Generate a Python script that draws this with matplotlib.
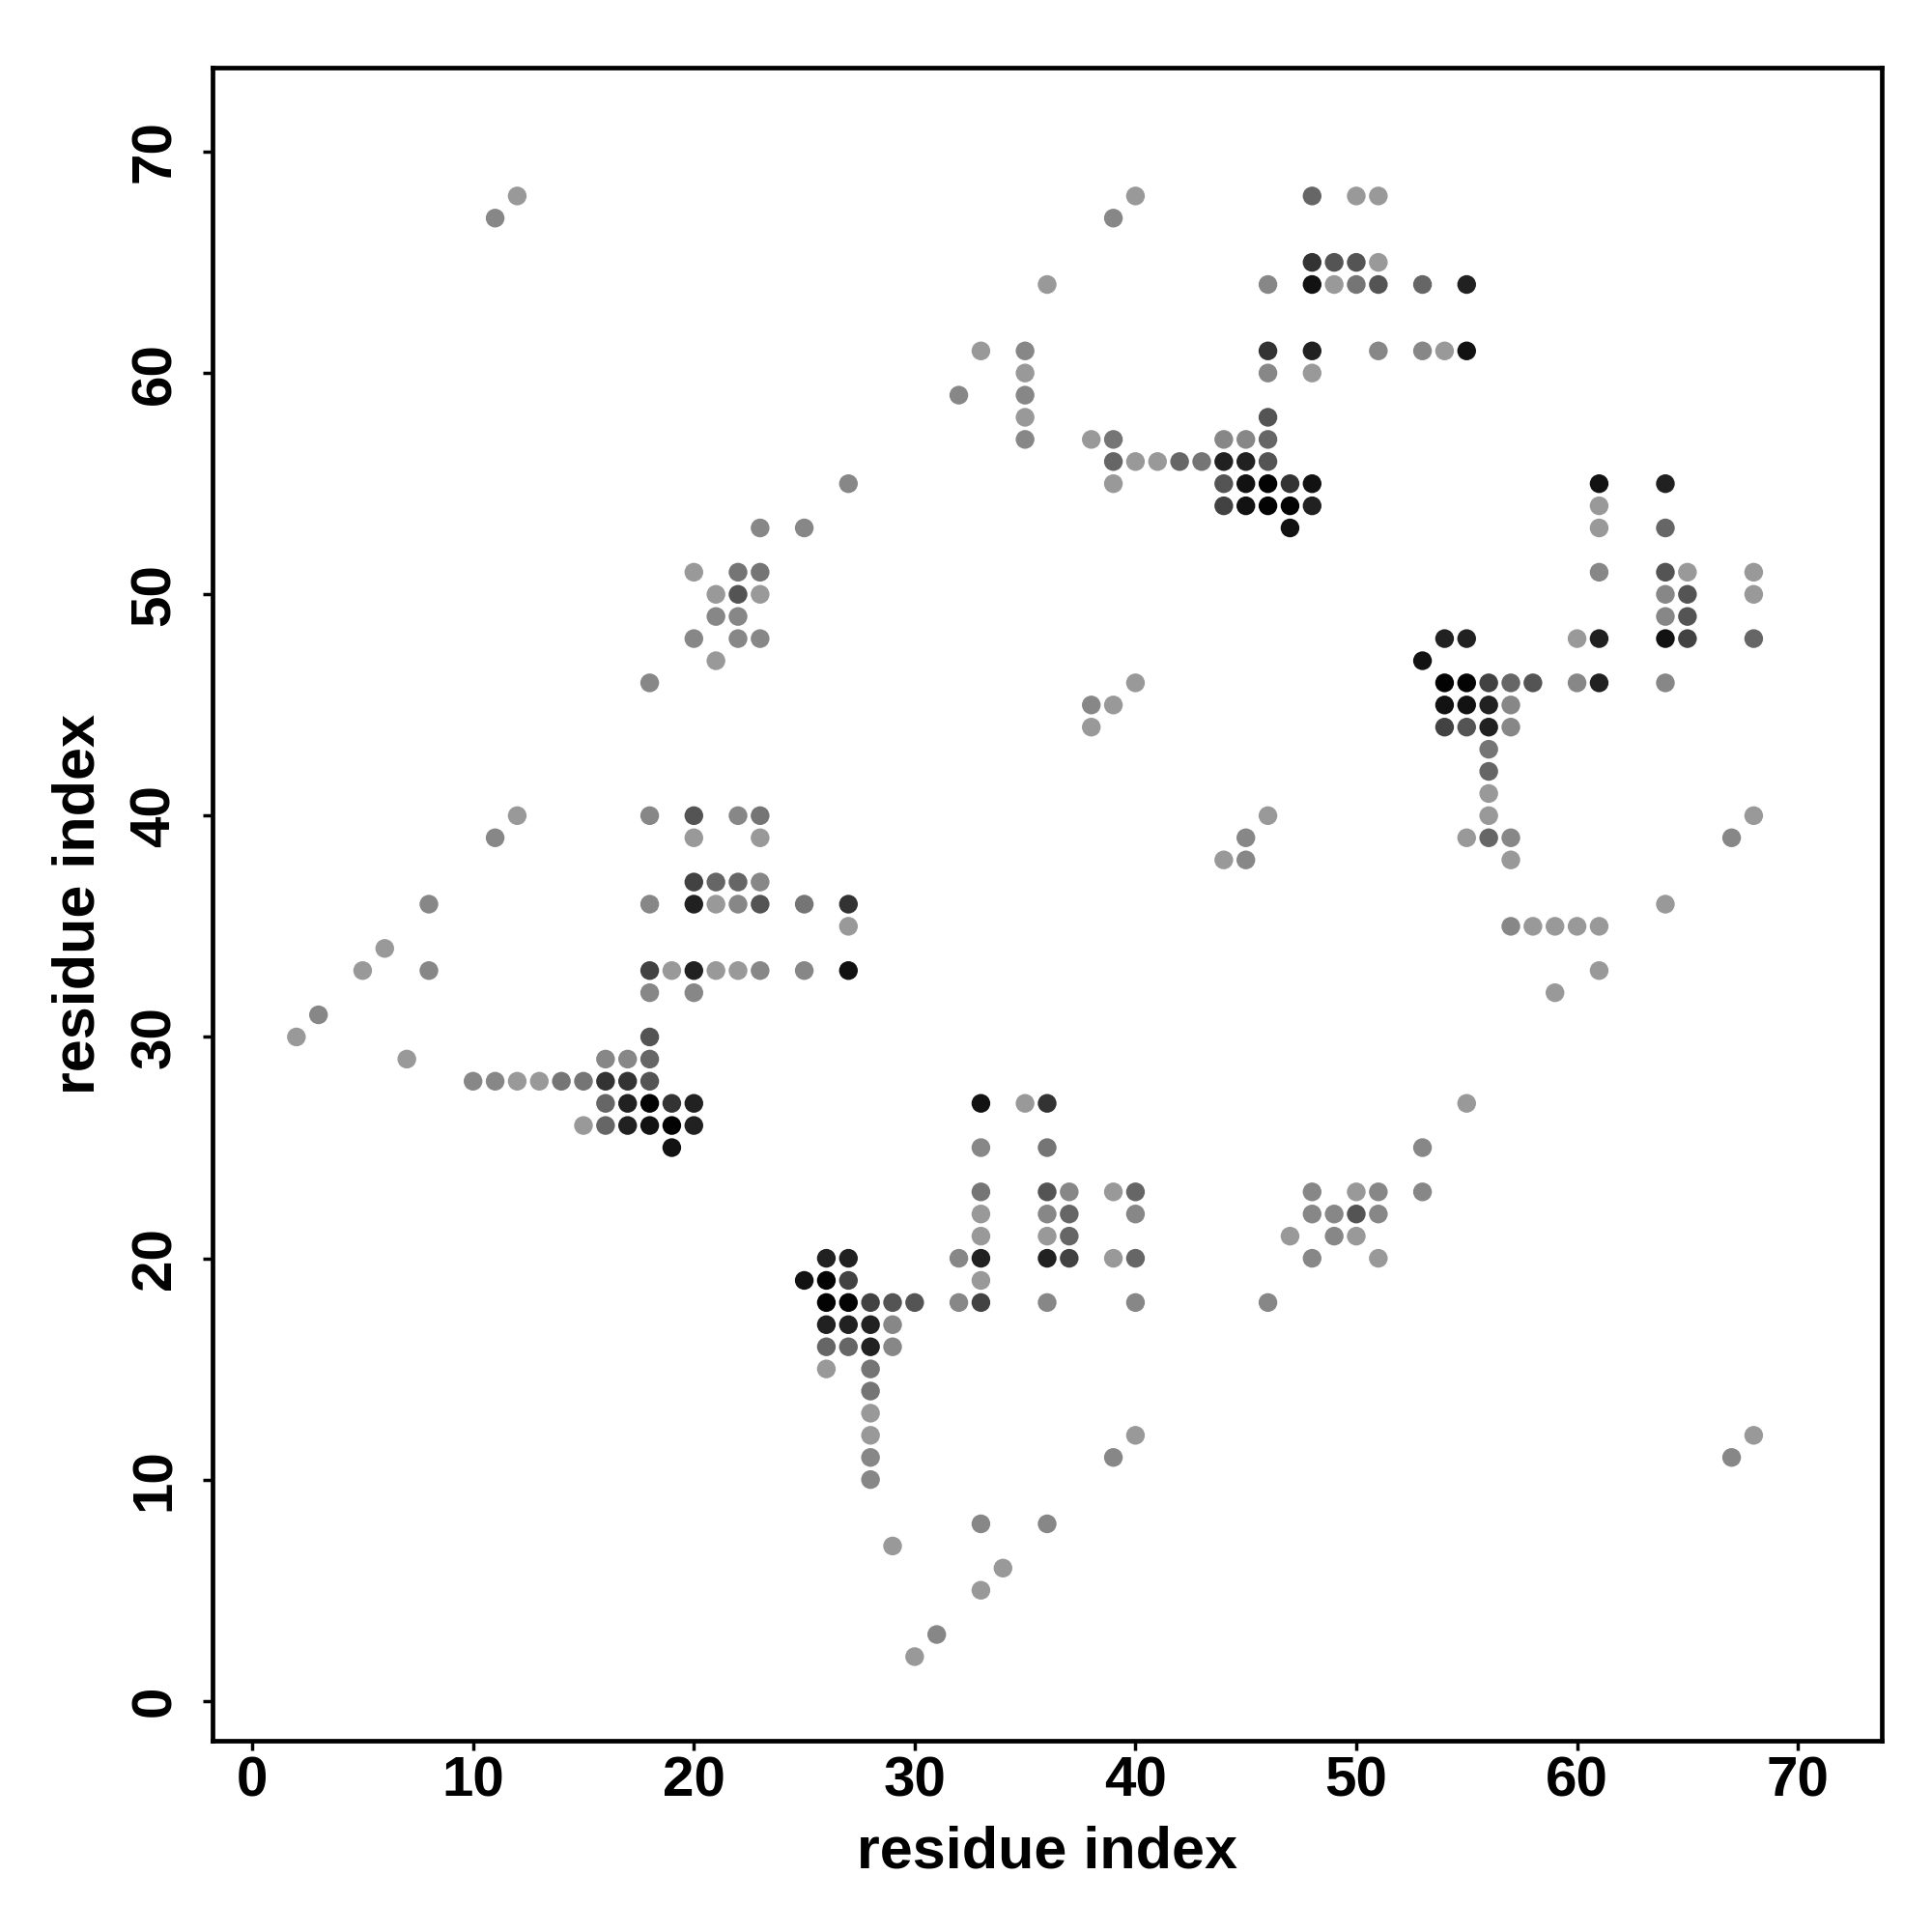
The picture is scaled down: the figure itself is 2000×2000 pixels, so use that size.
import matplotlib
matplotlib.use("Agg")
import matplotlib.pyplot as plt

# contact map: residue i (x), residue j (y), grey level (0 = black, 0.6 = light grey)
res_x = [
    12, 40, 48, 50, 51,                                   # y=68
    11, 39,                                               # y=67
    48, 49, 50, 51,                                       # y=65
    36, 46, 48, 49, 50, 51, 53, 55,                       # y=64
    33, 35, 46, 48, 51, 53, 54, 55,                       # y=61
    35, 46, 48,                                           # y=60
    32, 35,                                               # y=59
    35, 46,                                               # y=58
    35, 38, 39, 44, 45, 46,                               # y=57
    39, 40, 41, 42, 43, 44, 45, 46,                       # y=56
    27, 39, 44, 45, 46, 47, 48, 61, 64,                   # y=55
    44, 45, 46, 47, 48, 61,                               # y=54
    23, 25, 47, 61, 64,                                   # y=53
    20, 22, 23, 61, 64, 65, 68,                           # y=51
    21, 22, 23, 64, 65, 68,                               # y=50
    21, 22, 64, 65,                                       # y=49
    20, 22, 23, 54, 55, 60, 61, 64, 65, 68,               # y=48
    21, 53,                                               # y=47
    18, 40, 54, 55, 56, 57, 58, 60, 61, 64,               # y=46
    38, 39, 54, 55, 56, 57,                               # y=45
    38, 54, 55, 56, 57,                                   # y=44
    56,                                                   # y=43
    56,                                                   # y=42
    56,                                                   # y=41
    12, 18, 20, 22, 23, 46, 56, 68,                       # y=40
    11, 20, 23, 45, 55, 56, 57, 67,                       # y=39
    44, 45, 57,                                           # y=38
    20, 21, 22, 23,                                       # y=37
    8, 18, 20, 21, 22, 23, 25, 27, 64,                    # y=36
    27, 57, 58, 59, 60, 61,                               # y=35
    6,                                                    # y=34
    5, 8, 18, 19, 20, 21, 22, 23, 25, 27, 61,             # y=33
    18, 20, 59,                                           # y=32
    3,                                                    # y=31
    2, 18,                                                # y=30
    7, 16, 17, 18,                                        # y=29
    10, 11, 12, 13, 14, 15, 16, 17, 18,                   # y=28
    16, 17, 18, 19, 20, 33, 35, 36, 55,                   # y=27
    15, 16, 17, 18, 19, 20,                               # y=26
    19, 33, 36, 53,                                       # y=25
    33, 36, 37, 39, 40, 48, 50, 51, 53,                   # y=23
    33, 36, 37, 40, 48, 49, 50, 51,                       # y=22
    33, 36, 37, 47, 49, 50,                               # y=21
    26, 27, 32, 33, 36, 37, 39, 40, 48, 51,               # y=20
    25, 26, 27, 33,                                       # y=19
    26, 27, 28, 29, 30, 32, 33, 36, 40, 46,               # y=18
    26, 27, 28, 29,                                       # y=17
    26, 27, 28, 29,                                       # y=16
    26, 28,                                               # y=15
    28,                                                   # y=14
    28,                                                   # y=13
    28, 40, 68,                                           # y=12
    28, 39, 67,                                           # y=11
    28,                                                   # y=10
    33, 36,                                               # y=8
    29,                                                   # y=7
    34,                                                   # y=6
    33,                                                   # y=5
    31,                                                   # y=3
    30,                                                   # y=2
]

res_y = (
    [68] * 5 + [67] * 2 + [65] * 4 + [64] * 8 + [61] * 8 + [60] * 3 + [59] * 2
    + [58] * 2 + [57] * 6 + [56] * 8 + [55] * 9 + [54] * 6 + [53] * 5
    + [51] * 7 + [50] * 6 + [49] * 4 + [48] * 10 + [47] * 2 + [46] * 10
    + [45] * 6 + [44] * 5 + [43] + [42] + [41] + [40] * 8 + [39] * 8
    + [38] * 3 + [37] * 4 + [36] * 9 + [35] * 6 + [34] + [33] * 11
    + [32] * 3 + [31] + [30] * 2 + [29] * 4 + [28] * 9 + [27] * 9
    + [26] * 6 + [25] * 4 + [23] * 9 + [22] * 8 + [21] * 6 + [20] * 10
    + [19] * 4 + [18] * 10 + [17] * 4 + [16] * 4 + [15] * 2 + [14] + [13]
    + [12] * 3 + [11] * 3 + [10] + [8] * 2 + [7] + [6] + [5] + [3] + [2]
)

# grey codes: L light, M medium, digits = darker (0 black .. 7 mid grey)
shade = [
    "L", "L", "6", "L", "L",
    "M", "M",
    "3", "5", "5", "L",
    "L", "M", "1", "L", "7", "5", "6", "2",
    "L", "M", "3", "2", "M", "M", "L", "1",
    "L", "M", "L",
    "M", "M",
    "L", "5",
    "M", "L", "7", "M", "M", "6",
    "6", "L", "L", "6", "7", "2", "2", "5",
    "M", "L", "5", "1", "0", "3", "1", "1", "2",
    "4", "1", "0", "0", "2", "L",
    "M", "M", "1", "L", "6",
    "L", "7", "7", "M", "5", "L", "L",
    "L", "5", "L", "M", "5", "L",
    "M", "M", "M", "5",
    "M", "M", "M", "2", "2", "L", "2", "1", "4", "6",
    "L", "1",
    "M", "L", "0", "0", "4", "6", "5", "M", "2", "M",
    "M", "L", "1", "1", "2", "M",
    "L", "4", "5", "2", "M",
    "7",
    "6",
    "L",
    "L", "M", "5", "M", "7", "L", "L", "L",
    "M", "L", "L", "M", "L", "6", "M", "M",
    "L", "M", "L",
    "4", "6", "6", "M",
    "M", "M", "2", "L", "M", "5", "7", "3", "L",
    "L", "M", "L", "L", "L", "L",
    "L",
    "L", "M", "4", "L", "2", "L", "L", "M", "M", "1", "L",
    "M", "M", "L",
    "M",
    "L", "5",
    "L", "M", "M", "6",
    "M", "M", "L", "L", "7", "7", "3", "3", "5",
    "6", "2", "0", "3", "2", "1", "L", "3", "L",
    "L", "6", "2", "1", "0", "2",
    "1", "M", "7", "M",
    "7", "5", "M", "L", "6", "M", "L", "M", "M",
    "L", "M", "6", "M", "M", "M", "5", "M",
    "L", "L", "6", "L", "M", "L",
    "2", "2", "M", "2", "2", "4", "L", "6", "M", "L",
    "1", "0", "4", "L",
    "0", "0", "4", "5", "5", "M", "4", "M", "M", "M",
    "2", "2", "2", "M",
    "6", "6", "2", "M",
    "L", "7",
    "7",
    "L",
    "L", "L", "L",
    "M", "M", "M",
    "M",
    "M", "M",
    "L",
    "L",
    "L",
    "M",
    "L",
]

grey_levels = {"L": 0.60, "M": 0.53, "7": 0.46, "6": 0.40, "5": 0.33,
               "4": 0.26, "3": 0.20, "2": 0.13, "1": 0.07, "0": 0.01}
colors = [str(grey_levels[s]) for s in shade]

ticks = [0, 10, 20, 30, 40, 50, 60, 70]

plt.rcParams['font.family'] = ['Liberation Sans', 'DejaVu Sans']
plt.rcParams['font.weight'] = 'bold'

fig = plt.figure(figsize=(20, 20), dpi=100)
ax = fig.add_axes([0.110, 0.099, 0.864, 0.866])

ax.scatter(res_x, res_y, c=colors, s=195, linewidths=0, zorder=3)

ax.set_xlim(-1.8, 73.8)
ax.set_ylim(-1.8, 73.8)
ax.set_xticks(ticks)
ax.set_yticks(ticks)
ax.set_xticklabels([str(t) for t in ticks], fontsize=42, fontweight='bold')
ax.set_yticklabels([str(t) for t in ticks], fontsize=42, fontweight='bold',
                   rotation=90, va='center')

for sp in ax.spines.values():
    sp.set_linewidth(3.4)
ax.tick_params(axis='both', direction='out', length=7, width=2.5)
ax.tick_params(axis='x', pad=4)
ax.tick_params(axis='y', pad=16)

ax.set_xlabel("residue index", fontsize=44, fontweight='bold', labelpad=13)
ax.set_ylabel("residue index", fontsize=44, fontweight='bold', labelpad=17)

fig.savefig("out.png", dpi=100, facecolor="white")
